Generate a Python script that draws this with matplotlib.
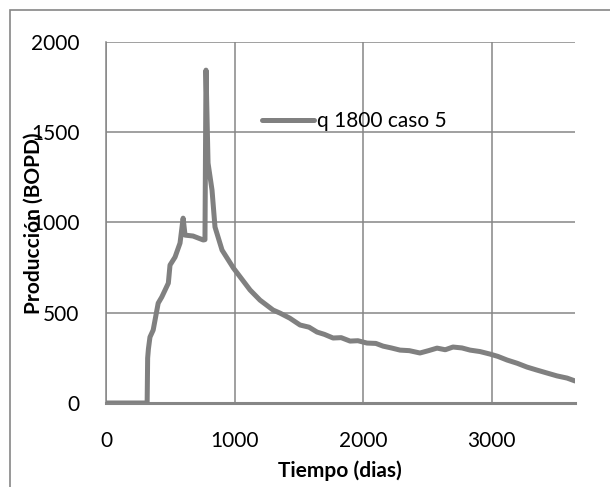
import matplotlib
matplotlib.use("Agg")
import matplotlib.pyplot as plt
from matplotlib.patches import Rectangle

plt.rcParams["font.family"] = ["Lato", "DejaVu Sans"]

# Values
dias = [0, 320, 324, 330, 342, 367, 406, 434, 485, 498, 537, 576, 600, 615,
        677, 757, 770, 778, 794, 825, 848, 903, 991, 1121, 1198, 1300, 1354,
        1430, 1510, 1580, 1642, 1700, 1767, 1830, 1899, 1960, 2031, 2100,
        2156, 2220, 2288, 2360, 2443, 2510, 2576, 2640, 2700, 2770, 2833,
        2910, 2988, 3050, 3121, 3200, 3276, 3350, 3432, 3510, 3588, 3650]
bopd = [0, 0, 249, 300, 365, 404, 553, 587, 664, 764, 808, 886, 1024, 930,
        925, 903, 905, 1844, 1329, 1179, 975, 847, 748, 626, 570, 515, 498,
        470, 432, 420, 393, 380, 360, 362, 343, 345, 332, 330, 315, 305, 293,
        290, 277, 290, 304, 295, 310, 305, 293, 285, 271, 258, 238, 220, 199,
        183, 166, 150, 138, 122]

x_ticks = [0, 1000, 2000, 3000]
y_ticks = [0, 500, 1000, 1500, 2000]

fig = plt.figure(figsize=(6.1, 4.87), dpi=100)
ax = fig.add_axes([0.1738, 0.1725, 0.7689, 0.7413])

grid_color = "#868686"
ax.plot(dias, bopd, color="#808080", linewidth=3.6, solid_joinstyle="round",
        solid_capstyle="round", label="q 1800 caso 5", zorder=3)

ax.set_xlim(0, 3650)
ax.set_ylim(0, 2000)
ax.set_xticks(x_ticks)
ax.set_yticks(y_ticks)
ax.grid(color=grid_color, linewidth=1.1)
ax.set_axisbelow(True)
for side in ["top", "right"]:
    ax.spines[side].set_visible(False)
ax.spines["left"].set_color(grid_color)
ax.spines["left"].set_linewidth(1.1)
ax.spines["bottom"].set_color(grid_color)
ax.spines["bottom"].set_linewidth(2.2)
ax.tick_params(length=0, labelsize=15, colors="black")
ax.tick_params(axis="y", pad=19)
ax.tick_params(axis="x", pad=20)

fig.text(0.0557, 0.542, "Producción (BOPD)", rotation=90, fontsize=15,
         fontweight="bold", ha="center", va="center")
fig.text(0.557, 0.033, "Tiempo (dias)", fontsize=15, fontweight="bold",
         ha="center", va="center")

ax.legend(loc="center left", bbox_to_anchor=(0.4295, 0.7515),
          bbox_transform=fig.transFigure, frameon=False, fontsize=15,
          handlelength=2.5, handletextpad=0.15, borderpad=0, borderaxespad=0)

# outer chart border (cropped on the right and bottom)
fig.patches.append(Rectangle((10 / 610, -0.1), 1.2, 1.1 - 10 / 487,
                             transform=fig.transFigure, fill=False,
                             edgecolor=grid_color, linewidth=1.2))

fig.savefig("out.png", dpi=100)
